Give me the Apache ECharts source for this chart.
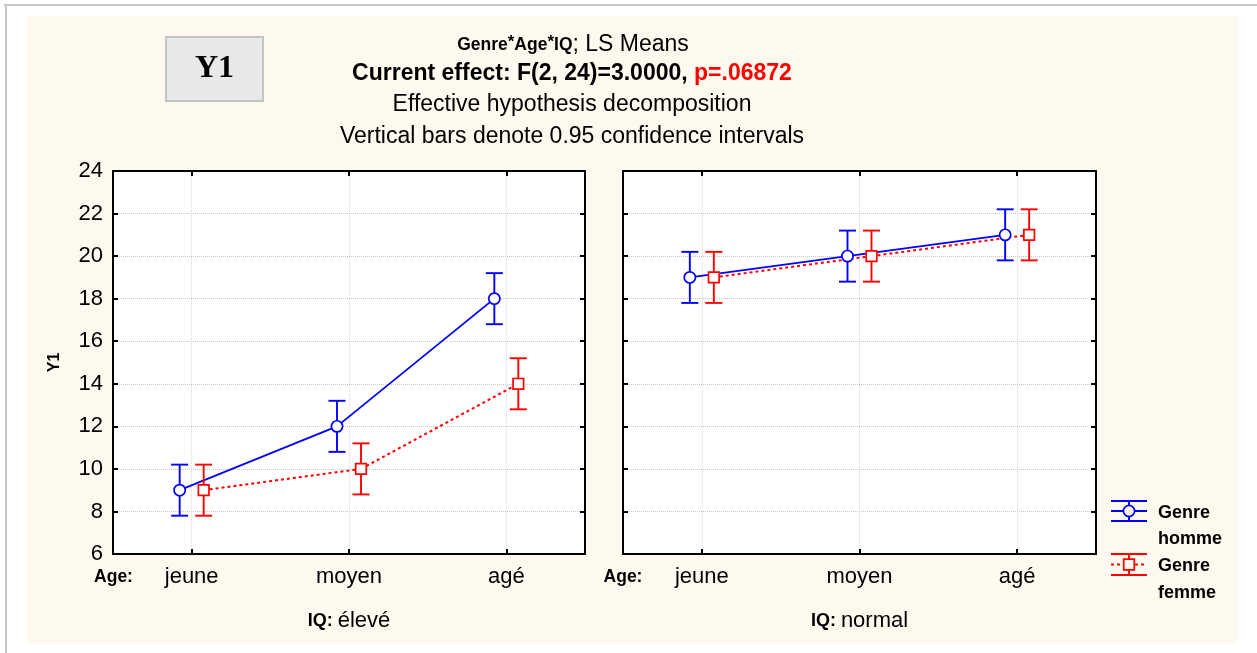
<!DOCTYPE html>
<html><head><meta charset="utf-8">
<script src="https://cdn.jsdelivr.net/npm/echarts@6/dist/echarts.min.js"></script>
<style>
html,body{margin:0;padding:0;background:#fff;}
#lt{position:absolute;left:4px;top:4px;width:1253px;height:2px;background:#c8c8c8;}
#ll{position:absolute;left:5px;top:4px;width:2px;height:649px;background:#c8c8c8;}
#bg{position:absolute;left:27px;top:16px;width:1211px;height:627px;background:#fdf9ee;}
#chart{position:absolute;left:0;top:0;width:1257px;height:653px;}
</style></head><body>
<div id="lt"></div><div id="ll"></div><div id="bg"></div><div id="chart"></div>
<script>
// ---- data ----
const ages = ['jeune', 'moyen', 'agé'];
const iqLevels = ['élevé', 'normal'];
const hommeEleve = [9, 12, 18];
const femmeEleve = [9, 10, 14];
const hommeNormal = [19, 20, 21];
const femmeNormal = [19, 20, 21];
const ciHommeEleve = [1.2, 1.2, 1.2];
const ciFemmeEleve = [1.2, 1.2, 1.2];
const ciHommeNormal = [1.2, 1.2, 1.2];
const ciFemmeNormal = [1.2, 1.2, 1.2];
const yMin = 6, yMax = 24, yStep = 2;

// ---- style ----
const FONT = 'Arial, "Liberation Sans", sans-serif';
const BLUE = '#0000ff', RED = '#ff0000';
const OFF = 12; // pixel offset of the two genders around the category centre

const gridRects = [
  {left: 113, top: 171, width: 472, height: 383},
  {left: 623, top: 171, width: 473, height: 383}
];

function lineSeries(vals, g, dx, color, dashed) {
  return {
    type: 'custom', xAxisIndex: g, yAxisIndex: g, z: 4, silent: true,
    data: vals.map((v, i) => [i, v]),
    renderItem(params, api) {
      const i = api.value(0);
      if (i >= vals.length - 1) return {type: 'group', children: []};
      const a = api.coord([i, api.value(1)]);
      const b = api.coord([i + 1, vals[i + 1]]);
      return {type: 'line', shape: {x1: a[0] + dx, y1: a[1], x2: b[0] + dx, y2: b[1]},
        style: {stroke: color, lineWidth: dashed ? 2 : 1.8, lineDash: dashed ? [3, 3] : null}};
    }
  };
}
function markerSeries(vals, ci, g, dx, color, shape) {
  return {
    type: 'custom', xAxisIndex: g, yAxisIndex: g, z: 5, silent: true,
    data: vals.map((v, i) => [i, v, v - ci[i], v + ci[i]]),
    renderItem(params, api) {
      const i = api.value(0);
      const c = api.coord([i, api.value(1)]);
      const lo = api.coord([i, api.value(2)]);
      const hi = api.coord([i, api.value(3)]);
      const x = c[0] + dx;
      const st = {stroke: color, lineWidth: 1.9, fill: null};
      const ch = [
        {type: 'line', shape: {x1: x, y1: hi[1], x2: x, y2: lo[1]}, style: st},
        {type: 'line', shape: {x1: x - 8.5, y1: hi[1], x2: x + 8.5, y2: hi[1]}, style: st},
        {type: 'line', shape: {x1: x - 8.5, y1: lo[1], x2: x + 8.5, y2: lo[1]}, style: st}
      ];
      if (shape === 'circle') {
        ch.push({type: 'circle', shape: {cx: x, cy: c[1], r: 5.6}, style: {stroke: color, lineWidth: 1.7, fill: '#fff'}});
      } else {
        ch.push({type: 'rect', shape: {x: x - 5.3, y: c[1] - 5.3, width: 10.6, height: 10.6}, style: {stroke: color, lineWidth: 1.7, fill: '#fff'}});
      }
      return {type: 'group', children: ch};
    }
  };
}

const axisLineStyle = {color: '#000', width: 2};
const gridLine = {show: true, lineStyle: {color: '#c8c8c8', type: 'dotted', width: 1}};

const xAxes = [], yAxes = [];
[0, 1].forEach(g => {
  xAxes.push({
    type: 'category', gridIndex: g, data: ages, position: 'bottom', boundaryGap: true,
    axisLine: {show: true, lineStyle: axisLineStyle},
    axisTick: {show: true, inside: true, alignWithLabel: true, length: 5, lineStyle: axisLineStyle},
    axisLabel: {fontSize: 22, color: '#000', margin: 12, fontFamily: FONT},
    splitLine: {show: true, alignWithLabel: true, lineStyle: {color: '#d8d8d8', type: 'dotted', width: 1}}
  });
});
[0, 1].forEach(g => {
  xAxes.push({
    type: 'category', gridIndex: g, data: ages, position: 'top', boundaryGap: true,
    axisLine: {show: true, lineStyle: axisLineStyle},
    axisTick: {show: true, inside: true, alignWithLabel: true, length: 5, lineStyle: axisLineStyle},
    axisLabel: {show: false}, splitLine: {show: false}
  });
});
[0, 1].forEach(g => {
  yAxes.push({
    type: 'value', gridIndex: g, min: yMin, max: yMax, interval: yStep, position: 'left',
    name: g === 0 ? 'Y1' : '', nameLocation: 'middle', nameGap: 50, nameRotate: 90,
    nameTextStyle: {fontSize: 16, fontWeight: 'bold', color: '#000', fontFamily: FONT},
    axisLine: {show: true, lineStyle: axisLineStyle},
    axisTick: {show: true, inside: true, length: 5, lineStyle: axisLineStyle},
    axisLabel: {show: g === 0, fontSize: 22, color: '#000', margin: 10, fontFamily: FONT},
    splitLine: gridLine
  });
});
[0, 1].forEach(g => {
  yAxes.push({
    type: 'value', gridIndex: g, min: yMin, max: yMax, interval: yStep, position: 'right',
    axisLine: {show: true, lineStyle: axisLineStyle},
    axisTick: {show: true, inside: true, length: 5, lineStyle: axisLineStyle},
    axisLabel: {show: false}, splitLine: {show: false}
  });
});

function txt(x, y, text, style) {
  return {type: 'text', x: x, y: y, silent: true,
    style: Object.assign({text: text, fontFamily: FONT, fill: '#000',
      textAlign: 'center', align: 'center', textVerticalAlign: 'middle', verticalAlign: 'middle'}, style)};
}
function ln(x1, y1, x2, y2, color, dash) {
  return {type: 'line', silent: true, shape: {x1, y1, x2, y2}, style: {stroke: color, lineWidth: 1.9, lineDash: dash || null}};
}
function ltxt(x, y, text) {
  return {type: 'text', x: x, y: y, silent: true, style: {text: text, fontFamily: FONT, fontSize: 18, fontWeight: 'bold', fill: '#000',
    align: 'left', textAlign: 'left', verticalAlign: 'middle', textVerticalAlign: 'middle'}};
}

const graphics = [
  {type: 'rect', silent: true, shape: {x: 166, y: 37, width: 97, height: 64},
    style: {fill: '#e8e8e8', stroke: '#c4c4c4', lineWidth: 2}},
  txt(214.5, 69, 'Y1', {fontSize: 32, fontWeight: 'bold', fontFamily: '"Times New Roman", "Liberation Serif", serif'}),
  txt(573, 45, '{b|Genre}{s|*}{b|Age}{s|*}{b|IQ}{n|; LS Means}', {
    rich: {
      b: {fontSize: 17.5, fontWeight: 'bold', fontFamily: FONT, fill: '#000'},
      s: {fontSize: 17, fontWeight: 'bold', fontFamily: FONT, fill: '#000', verticalAlign: 'top'},
      n: {fontSize: 23, fontFamily: FONT, fill: '#000'}
    }
  }),
  txt(572, 74, '{b|Current effect: F(2, 24)=3.0000, }{r|p=.06872}', {
    rich: {
      b: {fontSize: 23, fontWeight: 'bold', fontFamily: FONT, fill: '#000'},
      r: {fontSize: 23, fontWeight: 'bold', fontFamily: FONT, fill: RED}
    }
  }),
  txt(572, 105, 'Effective hypothesis decomposition', {fontSize: 23}),
  txt(572, 137, 'Vertical bars denote 0.95 confidence intervals', {fontSize: 23}),
  // Age: labels
  txt(113.5, 577, 'Age:', {fontSize: 17.5, fontWeight: 'bold'}),
  txt(623, 577, 'Age:', {fontSize: 17.5, fontWeight: 'bold'}),
  // IQ panel labels
  txt(349, 621, '{b|IQ: }{n|' + iqLevels[0] + '}', {rich: {
    b: {fontSize: 18, fontWeight: 'bold', fontFamily: FONT, fill: '#000'},
    n: {fontSize: 22, fontFamily: FONT, fill: '#000'}}}),
  txt(859.5, 621, '{b|IQ: }{n|' + iqLevels[1] + '}', {rich: {
    b: {fontSize: 18, fontWeight: 'bold', fontFamily: FONT, fill: '#000'},
    n: {fontSize: 22, fontFamily: FONT, fill: '#000'}}}),
  // legend
  ln(1111, 501, 1147, 501, BLUE), ln(1111, 521, 1147, 521, BLUE),
  ln(1111, 511, 1147, 511, BLUE), ln(1129, 501, 1129, 521, BLUE),
  {type: 'circle', silent: true, shape: {cx: 1129, cy: 511, r: 5.6}, style: {stroke: BLUE, lineWidth: 1.7, fill: '#fdf9ee'}},
  ln(1111, 554, 1147, 554, RED), ln(1111, 575, 1147, 575, RED),
  ln(1111, 564.5, 1147, 564.5, RED, [3, 3]), ln(1129, 554, 1129, 575, RED),
  {type: 'rect', silent: true, shape: {x: 1123.7, y: 559.2, width: 10.6, height: 10.6}, style: {stroke: RED, lineWidth: 1.7, fill: '#fdf9ee'}},
  ltxt(1158, 513, 'Genre'), ltxt(1158, 539, 'homme'),
  ltxt(1158, 566, 'Genre'), ltxt(1158, 593, 'femme')
];

const chart = echarts.init(document.getElementById('chart'), null, {renderer: 'canvas'});
chart.setOption({
  backgroundColor: 'transparent',
  animation: false,
  grid: gridRects.map(r => Object.assign({show: true, backgroundColor: '#fff', borderWidth: 0, containLabel: false}, r)),
  xAxis: xAxes,
  yAxis: yAxes,
  series: [
    lineSeries(femmeEleve, 0, OFF, RED, true),
    lineSeries(hommeEleve, 0, -OFF, BLUE, false),
    lineSeries(femmeNormal, 1, OFF, RED, true),
    lineSeries(hommeNormal, 1, -OFF, BLUE, false),
    markerSeries(femmeEleve, ciFemmeEleve, 0, OFF, RED, 'square'),
    markerSeries(hommeEleve, ciHommeEleve, 0, -OFF, BLUE, 'circle'),
    markerSeries(femmeNormal, ciFemmeNormal, 1, OFF, RED, 'square'),
    markerSeries(hommeNormal, ciHommeNormal, 1, -OFF, BLUE, 'circle')
  ],
  graphic: graphics
});
</script>
</body></html>
